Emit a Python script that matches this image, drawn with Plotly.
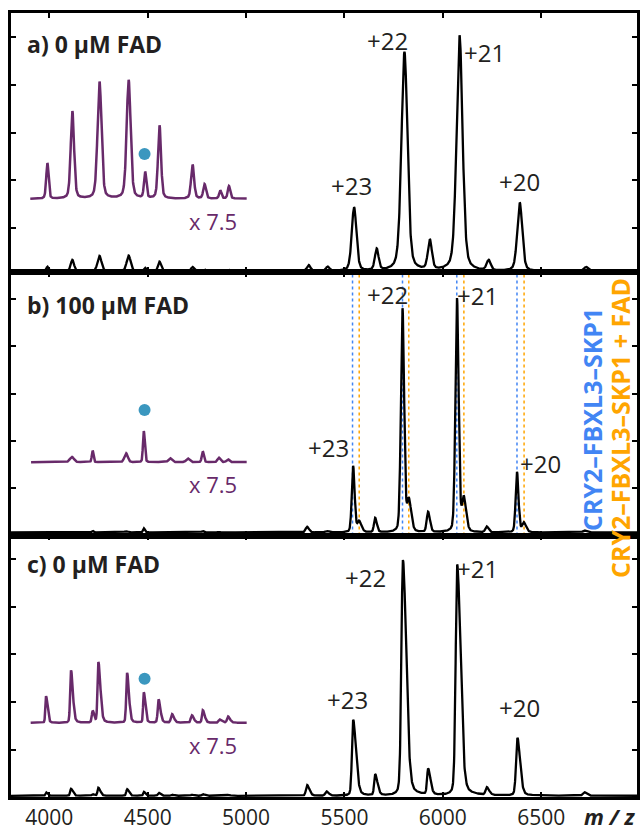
import numpy as np
import plotly.graph_objects as go

# ---------------- data ----------------
MZ_START, MZ_END = 3805, 6987
x_ticks = [4000, 4500, 5000, 5500, 6000, 6500]
x_tick_labels = ["4000", "4500", "5000", "5500", "6000", "6500"]
y_ticks = [20, 40, 60, 80, 100]

# Peak lists per panel: centre (m/z), height (% rel. int.), half widths left / right (m/z)
a_centers = [3990, 4117, 4255, 4403, 4487, 4560, 4728, 4789, 4869, 4913,
             5318, 5415, 5549, 5664, 5805, 5934, 6085, 6233, 6391, 6728]
a_heights = [2.0, 4.9, 6.55, 6.65, 1.45, 4.1, 1.9, 0.8, 0.45, 0.7,
             2.6, 1.9, 26.8, 9.0, 92.0, 12.5, 99.0, 4.3, 28.8, 1.9]
a_hw_left = [7, 10, 12, 12, 7, 9, 9, 8, 7, 7,
             11, 11, 14, 11, 18, 12, 18, 12, 15, 13]
a_hw_right = [7, 10, 12, 12, 7, 9, 9, 8, 7, 7,
              11, 11, 14, 11, 18, 12, 18, 12, 15, 13]

b_centers = [4115, 4220, 4390, 4480, 4614, 4704, 4780, 4862, 4908,
             5310, 5410, 5544, 5574, 5656, 5795, 5827, 5925, 6072, 6106, 6223, 6377, 6411, 6720]
b_heights = [0.3, 0.65, 0.5, 1.75, 0.22, 0.2, 0.6, 0.25, 0.15,
             2.4, 0.6, 28.0, 4.5, 6.0, 94.5, 13.0, 8.5, 98.8, 14.0, 2.4, 25.5, 4.0, 0.8]
b_hw_left = [12, 5, 10, 5, 10, 10, 6, 8, 8,
             9, 9, 8, 10, 7, 9.5, 10, 8, 9.5, 10, 8, 8, 10, 10]
b_hw_right = [12, 5, 10, 6, 10, 10, 6, 8, 8,
              11, 11, 9, 14, 10, 10, 14, 11, 10, 14, 10, 9, 14, 12]

c_centers = [3983, 4110, 4220, 4249, 4395, 4480, 4555, 4623, 4724, 4780, 4865, 4908,
             5310, 5408, 5544, 5656, 5797, 5925, 6073, 6223, 6379, 6718]
c_heights = [1.5, 2.95, 0.65, 3.4, 2.8, 1.7, 1.3, 0.48, 0.42, 0.7, 0.18, 0.35,
             4.5, 1.8, 32.0, 8.8, 99.2, 10.8, 97.2, 3.2, 24.3, 1.5]
c_hw_left = [4, 5, 5, 5, 5, 4, 5, 6, 6, 5, 6, 6,
             7, 7, 7, 6, 9, 6, 9, 7, 8, 8]
c_hw_right = [9, 11, 9, 12, 11, 9, 11, 12, 12, 11, 12, 12,
              14, 14, 17, 14, 20, 14, 20, 14, 16, 14]

baselines = [1.6, 1.3, 0.5]
peak_shape_eta = [0.35, 0.2, 0.25]

# magnified low m/z region
MAGNIFICATION = 7.5
inset_start = [3903, 3907, 3905]
inset_end = 5003
inset_offset = [32.0, 31.0, 31.2]

# blue marker above the ~4484 species
dot_mz = [4484, 4484, 4484]
dot_y = [51.0, 53.1, 49.8]

# theoretical m/z for the apo / FAD-bound complex (charge states 23, 22, 21, 20)
apo_mz = [5541, 5795, 6071, 6377]
fad_mz = [5575, 5827, 6107, 6413]

panel_titles = ["a) 0 µM FAD", "b) 100 µM FAD", "c) 0 µM FAD"]
charge_labels = ["+23", "+22", "+21", "+20"]
charge_label_x = [[5536, 5719, 6212, 6390],
                  [5420, 5719, 6177, 6495],
                  [5515, 5609, 6178, 6392]]
charge_label_y = [[37.6, 98.5, 93.6, 39.3],
                  [37.3, 102.0, 101.4, 30.6],
                  [41.0, 92.5, 96.4, 37.5]]
title_y = [97.3, 97.4, 98.0]
mag_label_y = [22.9, 21.8, 22.0]

y_ranges = [[1.4, 110.2], [0, 111.4], [0, 110.1]]

# ---------------- styling ----------------
FONT = "Open Sans"
TXT = "#231f20"
PURPLE = "#682a6a"
DOT = "#3b97bf"
BLUE = "#4285f4"
ORANGE = "#ffa500"

W, H = 641, 830
ML, MR, MT, MB = 11, 4, 13, 33
plot_h = H - MT - MB
bounds_px = [MT, 272, 535.5, H - MB]


def px_to_domain(top, bottom):
    return [(H - MB - bottom) / plot_h, (H - MB - top) / plot_h]


def spectrum(mz, centers, heights, hl, hr, eta):
    y = np.zeros_like(mz)
    for c, h, wl, wr in zip(centers, heights, hl, hr):
        w = np.where(mz < c, wl, wr)
        u = (mz - c) / w
        y += h * (eta / (1 + u ** 2) + (1 - eta) * np.exp(-np.log(2) * u ** 2))
    return y


mz = np.arange(MZ_START, MZ_END + 1, 1.0)
panels = [
    (a_centers, a_heights, a_hw_left, a_hw_right),
    (b_centers, b_heights, b_hw_left, b_hw_right),
    (c_centers, c_heights, c_hw_left, c_hw_right),
]

fig = go.Figure()
annotations = []
shapes = []

for i, (cen, hei, hl, hr) in enumerate(panels):
    xa = "x" if i == 0 else f"x{i + 1}"
    ya = "y" if i == 0 else f"y{i + 1}"
    sig = spectrum(mz, cen, hei, hl, hr, peak_shape_eta[i])

    fig.add_trace(go.Scatter(x=mz, y=baselines[i] + sig, mode="lines",
                             line=dict(color="black", width=2.3),
                             xaxis=xa, yaxis=ya, hoverinfo="skip"))

    sel = (mz >= inset_start[i]) & (mz <= inset_end)
    fig.add_trace(go.Scatter(x=mz[sel], y=inset_offset[i] + MAGNIFICATION * sig[sel],
                             mode="lines", line=dict(color=PURPLE, width=2.5),
                             xaxis=xa, yaxis=ya, hoverinfo="skip"))

    fig.add_trace(go.Scatter(x=[dot_mz[i]], y=[dot_y[i]], mode="markers",
                             marker=dict(color=DOT, size=12),
                             xaxis=xa, yaxis=ya, hoverinfo="skip"))

    annotations.append(dict(x=3878, y=title_y[i], xref=xa, yref=ya,
                            text=f"<b>{panel_titles[i]}</b>", showarrow=False,
                            xanchor="left", yanchor="middle",
                            font=dict(family=FONT, size=23, color=TXT)))
    for lab, lx, ly in zip(charge_labels, charge_label_x[i], charge_label_y[i]):
        annotations.append(dict(x=lx, y=ly, xref=xa, yref=ya, text=lab,
                                showarrow=False, xanchor="center", yanchor="middle",
                                font=dict(family=FONT, size=24, color=TXT)))
    annotations.append(dict(x=4830, y=mag_label_y[i], xref=xa, yref=ya,
                            text=f"x {MAGNIFICATION:g}", showarrow=False,
                            xanchor="center", yanchor="middle",
                            font=dict(family=FONT, size=22, color=PURPLE)))

# dotted reference lines in panel b
for v in apo_mz:
    shapes.append(dict(type="line", xref="x2", yref="y2 domain", x0=v, x1=v, y0=0, y1=1,
                       line=dict(color=BLUE, width=1.5, dash="dot"), layer="below"))
for v in fad_mz:
    shapes.append(dict(type="line", xref="x2", yref="y2 domain", x0=v, x1=v, y0=0, y1=1,
                       line=dict(color=ORANGE, width=1.5, dash="dot"), layer="below"))

# species legend as vertical text
annotations.append(dict(x=(592 - ML) / (W - ML - MR), y=(H - MB - 420) / plot_h,
                        xref="paper", yref="paper", text="<b>CRY2–FBXL3–SKP1</b>",
                        textangle=-90, showarrow=False, xanchor="center", yanchor="middle",
                        font=dict(family=FONT, size=25, color=BLUE)))
annotations.append(dict(x=(620 - ML) / (W - ML - MR), y=(H - MB - 428) / plot_h,
                        xref="paper", yref="paper", text="<b>CRY2–FBXL3–SKP1 + FAD</b>",
                        textangle=-90, showarrow=False, xanchor="center", yanchor="middle",
                        font=dict(family=FONT, size=25, color=ORANGE)))

# axis title
annotations.append(dict(x=(610 - ML) / (W - ML - MR), y=(H - MB - 816) / plot_h,
                        xref="paper", yref="paper", text="<b><i>m / z</i></b>",
                        showarrow=False, xanchor="center", yanchor="middle",
                        font=dict(family=FONT, size=22, color=TXT)))

layout = dict(
    width=W, height=H, margin=dict(l=ML, r=MR, t=MT, b=MB),
    paper_bgcolor="white", plot_bgcolor="white", showlegend=False,
    annotations=annotations, shapes=shapes,
)
for i in range(3):
    xk = "xaxis" if i == 0 else f"xaxis{i + 1}"
    yk = "yaxis" if i == 0 else f"yaxis{i + 1}"
    ya = "y" if i == 0 else f"y{i + 1}"
    xa = "x" if i == 0 else f"x{i + 1}"
    layout[xk] = dict(range=[MZ_START, MZ_END], domain=[0, 1], anchor=ya,
                      tickvals=x_ticks, ticktext=x_tick_labels,
                      showticklabels=(i == 2), ticks="inside", ticklen=5, tickwidth=2,
                      tickcolor="black", showline=True, linewidth=2.5, linecolor="black",
                      mirror="ticks", showgrid=False, zeroline=False,
                      automargin=False,
                      tickfont=dict(family=FONT, size=21, color=TXT))
    if i > 0:
        layout[xk]["matches"] = "x"
    layout[yk] = dict(range=y_ranges[i], domain=px_to_domain(bounds_px[i], bounds_px[i + 1]),
                      anchor=xa, tickvals=y_ticks, showticklabels=False,
                      ticks="inside", ticklen=5, tickwidth=2, tickcolor="black",
                      showline=True, linewidth=2.5, linecolor="black", mirror="ticks",
                      showgrid=False, zeroline=False, automargin=False)

fig.update_layout(**layout)
fig.write_html("out.html")
